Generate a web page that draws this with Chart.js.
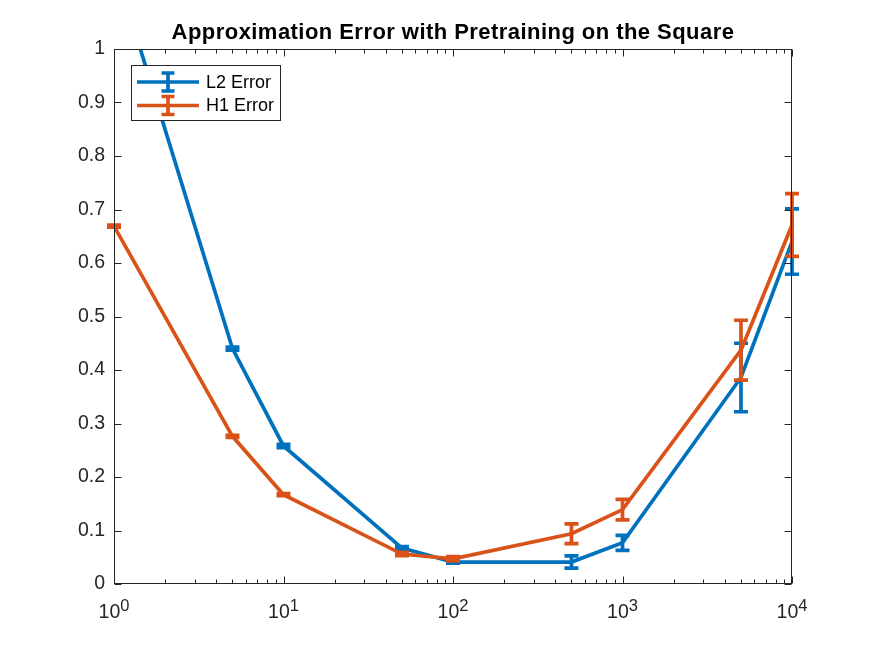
<!DOCTYPE html>
<html>
<head>
<meta charset="utf-8">
<script src="https://cdn.jsdelivr.net/npm/chart.js@4.4.1/dist/chart.umd.min.js"></script>
<style>
  html, body { margin: 0; padding: 0; background: #fff; }
  #wrap { width: 875px; height: 656px; }
</style>
</head>
<body>
<div id="wrap"><canvas id="errChart" width="875" height="656"></canvas></div>
<script>
// values
const xValues = [1, 5, 10, 50, 100, 500, 1000, 5000, 10000];
const l2Mean = [1.16, 0.440, 0.258, 0.067, 0.041, 0.041, 0.077, 0.386, 0.640];
const l2Err  = [0.004, 0.003, 0.003, 0.003, 0.002, 0.0115, 0.014, 0.064, 0.061];
const h1Mean = [0.669, 0.276, 0.167, 0.056, 0.047, 0.094, 0.139, 0.437, 0.671];
const h1Err  = [0.002, 0.002, 0.002, 0.003, 0.004, 0.0185, 0.019, 0.056, 0.0585];

const seriesLabels = ['L2 Error', 'H1 Error'];
const seriesColors = ['#0072BD', '#D95319'];

const xTicks = [1, 10, 100, 1000, 10000];
const xTickExps = ['0', '1', '2', '3', '4'];
const xMinorMult = [2, 3, 4, 5, 6, 7, 8, 9];
const yTicks = [0, 0.1, 0.2, 0.3, 0.4, 0.5, 0.6, 0.7, 0.8, 0.9, 1];
const yTickLabels = ['0', '0.1', '0.2', '0.3', '0.4', '0.5', '0.6', '0.7', '0.8', '0.9', '1'];

const titleText = 'Approximation Error with Pretraining on the Square';
const errs = [l2Err, h1Err];
const axisColor = '#262626';
const lw = 3.7;

Chart.defaults.font.family = "'Liberation Sans', Arial, sans-serif";

// error bars for one series, drawn right after its line
const errorBars = {
    id: 'errorBars',
    afterDatasetDraw(chart, args) {
        const ctx = chart.ctx;
        const area = chart.chartArea;
        const xs = chart.scales.x, ys = chart.scales.y;
        const ds = chart.data.datasets[args.index];
        const err = errs[args.index];
        ctx.save();
        ctx.beginPath();
        ctx.rect(0, area.top, chart.width, area.bottom - area.top);
        ctx.clip();
        ctx.strokeStyle = ds.borderColor;
        ctx.lineWidth = lw;
        ctx.lineCap = 'butt';
        ds.data.forEach((p, j) => {
            const x = xs.getPixelForValue(p.x);
            const yHi = ys.getPixelForValue(p.y + err[j]);
            const yLo = ys.getPixelForValue(p.y - err[j]);
            ctx.beginPath();
            ctx.moveTo(x, yHi - lw / 2);
            ctx.lineTo(x, yLo + lw / 2);
            ctx.moveTo(x - 7, yHi);
            ctx.lineTo(x + 7, yHi);
            ctx.moveTo(x - 7, yLo);
            ctx.lineTo(x + 7, yLo);
            ctx.stroke();
        });
        ctx.restore();
    }
};

// box, inward ticks, x labels with exponents, title, legend
const frame = {
    id: 'frame',
    afterDraw(chart) {
        const ctx = chart.ctx;
        const a = chart.chartArea;
        const xs = chart.scales.x, ys = chart.scales.y;
        const L = Math.round(a.left) + 0.5, R = Math.round(a.right) - 0.5;
        const T = Math.round(a.top) + 0.5, B = Math.round(a.bottom) - 0.5;
        ctx.save();
        ctx.strokeStyle = axisColor;
        ctx.lineWidth = 1;
        ctx.strokeRect(L, T, R - L, B - T);

        ctx.beginPath();
        yTicks.forEach(v => {
            const y = Math.round(ys.getPixelForValue(v)) + 0.5;
            ctx.moveTo(L, y); ctx.lineTo(L + 7, y);
            ctx.moveTo(R, y); ctx.lineTo(R - 7, y);
        });
        xTicks.forEach(v => {
            const x = Math.round(xs.getPixelForValue(v)) + 0.5;
            ctx.moveTo(x, B); ctx.lineTo(x, B - 7);
            ctx.moveTo(x, T); ctx.lineTo(x, T + 7);
        });
        xTicks.slice(0, -1).forEach(d => {
            xMinorMult.forEach(m => {
                const x = Math.round(xs.getPixelForValue(d * m)) + 0.5;
                ctx.moveTo(x, B); ctx.lineTo(x, B - 4);
                ctx.moveTo(x, T); ctx.lineTo(x, T + 4);
            });
        });
        ctx.stroke();

        // x tick labels: 10 with a raised exponent
        ctx.fillStyle = axisColor;
        ctx.textBaseline = 'alphabetic';
        ctx.textAlign = 'left';
        xTicks.forEach((v, i) => {
            const x = xs.getPixelForValue(v);
            ctx.font = "19.5px 'Liberation Sans', Arial, sans-serif";
            const wb = ctx.measureText('10').width;
            ctx.font = "16.5px 'Liberation Sans', Arial, sans-serif";
            const we = ctx.measureText(xTickExps[i]).width;
            const x0 = x - (wb + we) / 2;
            ctx.font = "19.5px 'Liberation Sans', Arial, sans-serif";
            ctx.fillText('10', x0, 618);
            ctx.font = "16.5px 'Liberation Sans', Arial, sans-serif";
            ctx.fillText(xTickExps[i], x0 + wb, 611);
        });

        // title
        ctx.fillStyle = '#000';
        ctx.textAlign = 'center';
        ctx.font = "bold 22px 'Liberation Sans', Arial, sans-serif";
        ctx.letterSpacing = '0.45px';
        ctx.fillText(titleText, (a.left + a.right) / 2, 38.5);
        ctx.letterSpacing = '0px';

        // legend
        const bx = 131.5, by = 65.5, bw = 149, bh = 55;
        ctx.fillStyle = '#fff';
        ctx.fillRect(bx, by, bw, bh);
        ctx.strokeStyle = axisColor;
        ctx.lineWidth = 1;
        ctx.strokeRect(bx, by, bw, bh);
        ctx.font = "18px 'Liberation Sans', Arial, sans-serif";
        ctx.textAlign = 'left';
        ctx.textBaseline = 'middle';
        seriesLabels.forEach((lab, i) => {
            const y = 82 + i * 23.5;
            ctx.strokeStyle = seriesColors[i];
            ctx.lineWidth = lw;
            ctx.beginPath();
            ctx.moveTo(137, y); ctx.lineTo(199, y);
            ctx.moveTo(168, y - 9); ctx.lineTo(168, y + 9);
            ctx.moveTo(161.5, y - 9); ctx.lineTo(174.5, y - 9);
            ctx.moveTo(161.5, y + 9); ctx.lineTo(174.5, y + 9);
            ctx.stroke();
            ctx.fillStyle = '#000';
            ctx.fillText(lab, 206, y + 1);
        });
        ctx.restore();
    }
};

function toPoints(means) {
    return xValues.map((x, i) => ({ x: x, y: means[i] }));
}

const ctx = document.getElementById('errChart').getContext('2d');
new Chart(ctx, {
    type: 'line',
    data: {
        datasets: [{
            label: seriesLabels[0],
            data: toPoints(l2Mean),
            borderColor: seriesColors[0],
            borderWidth: lw,
            pointRadius: 0,
            tension: 0,
            order: 1
        }, {
            label: seriesLabels[1],
            data: toPoints(h1Mean),
            borderColor: seriesColors[1],
            borderWidth: lw,
            pointRadius: 0,
            tension: 0,
            order: 0
        }]
    },
    options: {
        responsive: false,
        animation: false,
        devicePixelRatio: 1,
        layout: { padding: { left: 0, right: 83, top: 49, bottom: 0 } },
        plugins: {
            legend: { display: false },
            title: { display: false },
            tooltip: { enabled: false }
        },
        scales: {
            x: {
                type: 'logarithmic',
                min: 1,
                max: 10000,
                grid: { display: false, drawTicks: false },
                border: { display: false },
                ticks: { display: false },
                afterBuildTicks: s => { s.ticks = xTicks.map(v => ({ value: v })); },
                afterFit: s => { s.height = 72; }
            },
            y: {
                min: 0,
                max: 1,
                grid: { display: false, drawTicks: false },
                border: { display: false },
                ticks: {
                    color: axisColor,
                    font: { size: 19.5 },
                    padding: 9,
                    callback: (v, i) => yTickLabels[i]
                },
                afterBuildTicks: s => { s.ticks = yTicks.map(v => ({ value: v })); },
                afterFit: s => { s.width = 114; }
            }
        }
    },
    plugins: [errorBars, frame]
});
</script>
</body>
</html>
